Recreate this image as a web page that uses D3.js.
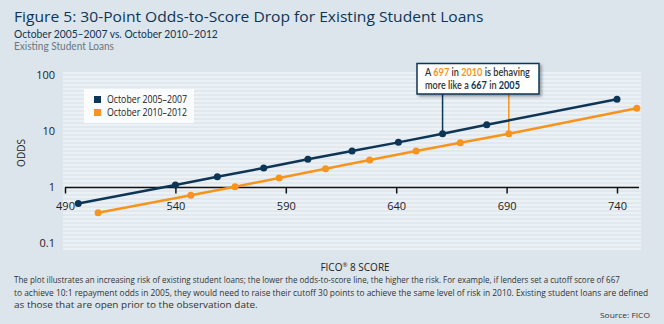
<!DOCTYPE html>
<html><head><meta charset="utf-8">
<script src="https://cdn.jsdelivr.net/npm/d3@7"></script>
<style>
html,body{margin:0;padding:0;background:#dce5eb;}
svg{display:block;font-family:"Open Sans","Noto Sans",sans-serif;}
</style></head>
<body>
<script>
const seriesNames = ["October 2005\u20132007", "October 2010\u20132012"];
const scores2005 = [496, 540, 559, 580, 600, 620, 641, 661, 681, 740];
const odds2005   = [0.52, 1.11, 1.56, 2.23, 3.19, 4.48, 6.4, 9.1, 13.2, 37.6];
const scores2010 = [505, 547, 567, 587, 608, 628, 649, 669, 691, 749];
const odds2010   = [0.355, 0.73, 1.03, 1.48, 2.17, 3.1, 4.48, 6.3, 9.1, 26];
const xTicks = [490, 540, 590, 640, 690, 740];
const yTicks = [0.1, 1, 10, 100];
const yTickLabels = ["0.1", "1", "10", "100"];

const W = 664, H = 324;
const navy = "#0d3656", orange = "#f7941d";
const svg = d3.select("body").append("svg").attr("width", W).attr("height", H);
svg.append("rect").attr("width", W).attr("height", H).attr("fill", "#dce5eb");

// horizontally fit a text element to a target width (condensed look)
function fit(sel, x, y, target) {
  const w = sel.node().getComputedTextLength();
  const s = Math.min(1.15, target / w);
  sel.attr("x", 0).attr("y", 0).attr("transform", `translate(${x},${y}) scale(${s},1)`);
  return sel;
}

const x = d3.scaleLinear().domain([490, 740]).range([65, 617]);
const y = d3.scaleLog().domain([0.1, 100]).range([243.5, 75.5]);

const defs = svg.append("defs");
const pat = defs.append("pattern").attr("id", "stripes").attr("patternUnits", "userSpaceOnUse")
  .attr("width", 8).attr("height", 4);
pat.append("rect").attr("width", 8).attr("height", 4).attr("fill", "#e1e8ee");
pat.append("rect").attr("width", 8).attr("height", 2).attr("fill", "#ecf1f6");
const shadow = defs.append("filter").attr("id", "shadow").attr("x", "-20%").attr("y", "-30%").attr("width", "150%").attr("height", "170%");
shadow.append("feDropShadow").attr("dx", 2).attr("dy", 2).attr("stdDeviation", 1.5).attr("flood-color", "#000").attr("flood-opacity", 0.35);

svg.append("rect").attr("x", 63).attr("y", 72).attr("width", 578).attr("height", 178).attr("fill", "url(#stripes)");

// titles
fit(svg.append("text").attr("fill", navy).attr("font-size", 15)
  .text("Figure 5: 30-Point Odds-to-Score Drop for Existing Student Loans"), 14, 22, 470);
fit(svg.append("text").attr("fill", navy).attr("font-size", 11.5).attr("font-family", "Lato, 'Open Sans', sans-serif")
  .text("October 2005\u20132007 vs. October 2010\u20132012"), 14, 37.5, 204);
fit(svg.append("text").attr("fill", "#6b7680").attr("font-size", 10.5).attr("font-family", "Lato, 'Open Sans', sans-serif")
  .text("Existing Student Loans"), 14, 49.5, 100);

// y axis labels
svg.append("g").selectAll("text").data(yTicks).join("text")
  .attr("x", 55).attr("y", d => y(d)).attr("dy", "0.35em").attr("text-anchor", "end")
  .attr("font-size", 11).attr("fill", "#222").text((d, i) => yTickLabels[i]);
svg.append("text").attr("transform", "translate(21,153) rotate(-90)").attr("text-anchor", "middle")
  .attr("dy", "0.35em").attr("font-size", 10).attr("fill", "#222").text("ODDS");

// x axis at odds = 1
const xAxis = d3.axisBottom(x).tickValues(xTicks).tickSize(6).tickSizeOuter(0).tickPadding(9);
const gx = svg.append("g").attr("transform", `translate(0,${y(1)})`).call(xAxis);
gx.select(".domain").attr("d", `M${x(490)},0H639`).attr("stroke", "#111").attr("stroke-width", 1.5);
gx.selectAll(".tick line").attr("stroke", "#111").attr("stroke-width", 1.5);
gx.selectAll(".tick text").attr("font-size", 11).attr("fill", "#222").attr("font-family", "'Open Sans',sans-serif");
svg.append("text").attr("x", 355).attr("y", 271).attr("text-anchor", "middle").attr("font-size", 10)
  .attr("fill", "#222").html("FICO<tspan font-size='6' dy='-4'>®</tspan><tspan dy='4'> 8 SCORE</tspan>");

// callout connector lines
svg.append("line").attr("x1", x(661)).attr("x2", x(661)).attr("y1", 94).attr("y2", y(9.1))
  .attr("stroke", navy).attr("stroke-width", 1.5);
svg.append("line").attr("x1", x(691)).attr("x2", x(691)).attr("y1", 94).attr("y2", y(9.1))
  .attr("stroke", orange).attr("stroke-width", 1.5);

// series
const line = d3.line().x(d => x(d[0])).y(d => y(d[1]));
const series = [
  {pts: d3.zip(scores2005, odds2005), color: navy},
  {pts: d3.zip(scores2010, odds2010), color: orange}
];
series.forEach(s => {
  svg.append("path").datum(s.pts).attr("d", line).attr("fill", "none")
    .attr("stroke", s.color).attr("stroke-width", 2.5);
  svg.append("g").selectAll("circle").data(s.pts).join("circle")
    .attr("cx", d => x(d[0])).attr("cy", d => y(d[1])).attr("r", 3.5).attr("fill", s.color);
});

// legend
const lg = svg.append("g");
lg.append("rect").attr("x", 84).attr("y", 89).attr("width", 110).attr("height", 34)
  .attr("fill", "#ffffff").attr("fill-opacity", 0.8);
seriesNames.forEach((n, i) => {
  const yy = 99.5 + i * 13;
  lg.append("rect").attr("x", 94).attr("y", yy - 3.5).attr("width", 7).attr("height", 7)
    .attr("fill", i === 0 ? navy : orange);
  fit(lg.append("text").attr("font-size", 10.5).attr("dy", "0.35em").attr("fill", "#222").text(n), 107, yy, 80);
});

// callout box
svg.append("rect").attr("x", 417).attr("y", 63.5).attr("width", 122).attr("height", 30.5)
  .attr("fill", "#fff").attr("stroke", navy).attr("stroke-width", 1.5).attr("filter", "url(#shadow)");
const cf = "Lato, 'Open Sans', sans-serif";
const t1 = svg.append("text").attr("font-size", 10.5).attr("font-family", cf).attr("font-weight", 600).attr("fill", "#333");
t1.append("tspan").text("A ");
t1.append("tspan").attr("fill", orange).attr("font-weight", 700).text("697");
t1.append("tspan").text(" in ");
t1.append("tspan").attr("fill", orange).attr("font-weight", 700).text("2010");
t1.append("tspan").text(" is behaving");
fit(t1, 425, 76, 105);
const t2 = svg.append("text").attr("font-size", 10.5).attr("font-family", cf).attr("font-weight", 600).attr("fill", "#333");
t2.append("tspan").text("more like a ");
t2.append("tspan").attr("fill", navy).attr("font-weight", 700).text("667");
t2.append("tspan").text(" in ");
t2.append("tspan").attr("fill", navy).attr("font-weight", 700).text("2005");
fit(t2, 425, 89, 95);

// footnote
const foot = [
  "The plot illustrates an increasing risk of existing student loans; the lower the odds-to-score line, the higher the risk. For example, if lenders set a cutoff score of 667",
  "to achieve 10:1 repayment odds in 2005, they would need to raise their cutoff 30 points to achieve the same level of risk in 2010. Existing student loans are defined",
  "as those that are open prior to the observation date."
];
const footW = [607, 635, 244];
foot.forEach((f, i) => {
  fit(svg.append("text").attr("font-size", 9.5).attr("fill", "#333").text(f), 14, 283 + i * 12.5, footW[i]);
});
fit(svg.append("text").attr("font-size", 8).attr("fill", "#333").text("Source: FICO"), 600, 318, 50);
</script>
</body></html>
